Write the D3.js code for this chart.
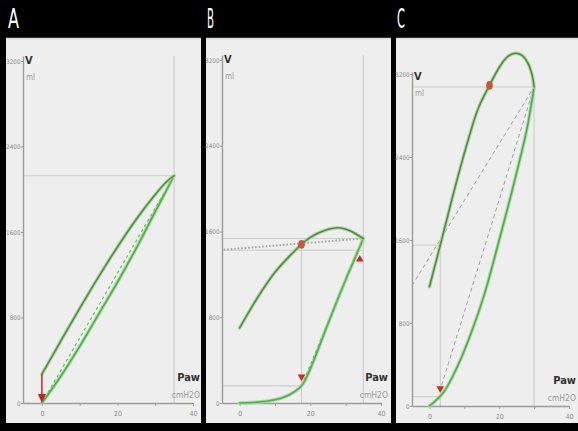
<!DOCTYPE html>
<html><head><meta charset="utf-8">
<script src="https://cdn.jsdelivr.net/npm/d3@7"></script>
<style>body{margin:0;background:#000;} svg{display:block}</style>
</head><body><svg id="c" width="578" height="431"></svg>
<script>
// ---------- data ----------
const panelLabels = ["A", "B", "C"];
const pressureTicks = [0, 10, 20, 30, 40];
const pressureTickLabels = ["0", "", "20", "", "40"];
const volumeTicks = [0, 800, 1600, 2400, 3200];
const volumeTickLabels = ["0", "800", "1600", "2400", "3200"];
const axisNames = ["V", "ml", "Paw", "cmH2O"];

// Panel A
const A_upperP = [0, 5, 10, 15, 20, 25, 30, 33, 35];
const A_upperV = [270, 580, 885, 1180, 1460, 1720, 1950, 2070, 2127];
const A_lowerP = [0, 5, 10, 15, 20, 25, 30, 35];
const A_lowerV = [0, 250, 530, 830, 1130, 1450, 1790, 2127];
const A_dashP = [0, 35];
const A_dashV = [0, 2127];
const A_arrowP = [0, 0];
const A_arrowV = [270, 0];

// Panel B
const B_upperP = [0, 5, 10, 15, 17.5, 20, 24, 28, 31, 33, 35];
const B_upperV = [700, 980, 1220, 1400, 1480, 1545, 1610, 1635, 1610, 1575, 1535];
const B_lowerP = [0, 5, 10, 14, 17.5, 20, 25, 30, 33, 35];
const B_lowerV = [0, 8, 30, 75, 160, 320, 740, 1150, 1380, 1535];
const B_dashP = [17.5, 35];
const B_dashV = [160, 1535];
const B_dotP = [-4.5, 35];
const B_dotV = [1430, 1535];
const B_pointP = [17.5];
const B_pointV = [1480];
const B_downP = [17.5];
const B_downV = [245];
const B_upP = [34];
const B_upV = [1340];

// Panel C
const C_upperP = [0, 3.1, 6.5, 10.8, 14, 17.2, 20.3, 22.5, 24.6, 26.5, 28.3, 29.5, 30];
const C_upperV = [1150, 1550, 2000, 2530, 2870, 3090, 3280, 3370, 3400, 3380, 3300, 3180, 3075];
const C_lowerP = [0, 4, 8, 11, 15.5, 20, 25, 28, 30];
const C_lowerV = [0, 130, 380, 620, 1050, 1600, 2250, 2680, 3075];
const C_dash1P = [-5, 30];
const C_dash1V = [1160, 3075];
const C_dash2P = [3.5, 30];
const C_dash2V = [200, 3075];
const C_pointP = [17.2];
const C_pointV = [3090];
const C_downP = [3.1];
const C_downV = [170];

// ---------- drawing ----------
const svg = d3.select("#c");
svg.append("rect").attr("width", 578).attr("height", 431).attr("fill", "#000");

const FONT = "'Liberation Sans Narrow','DejaVu Sans Condensed','Liberation Sans',sans-serif";
const zip = (P, V) => P.map((p, i) => [p, V[i]]);

const layouts = [
  {left: 6, right: 201, axisX: 23, x40: 193, y0: 403, y3200: 61, top: 56, lw: 11, lx: 8},
  {left: 206, right: 391, axisX: 222, x40: 381, y0: 403, y3200: 60, top: 55, lw: 7, lx: 207},
  {left: 396, right: 578, axisX: 412, x40: 569, y0: 406, y3200: 74, top: 72, lw: 8, lx: 397}
];

const panelData = [
  {
    upper: zip(A_upperP, A_upperV), lower: zip(A_lowerP, A_lowerV),
    greenDash: [zip(A_dashP, A_dashV)], grayDash: [], dotted: [],
    refs: [
      [[-5, 2127], [35, 2127]],
      [[35, "top"], [35, 0]]
    ],
    points: [], down: [], up: [], arrow: zip(A_arrowP, A_arrowV)
  },
  {
    upper: zip(B_upperP, B_upperV), lower: zip(B_lowerP, B_lowerV),
    greenDash: [zip(B_dashP, B_dashV)], grayDash: [], dotted: [zip(B_dotP, B_dotV)],
    refs: [
      [[35, "top"], [35, 0]],
      [[-5, 1535], [35, 1535]],
      [[-5, 1425], [35, 1425]],
      [[17.5, 1480], [17.5, 0]],
      [[-5, 160], [17.5, 160]]
    ],
    points: zip(B_pointP, B_pointV), down: zip(B_downP, B_downV), up: zip(B_upP, B_upV), arrow: null
  },
  {
    upper: zip(C_upperP, C_upperV), lower: zip(C_lowerP, C_lowerV),
    greenDash: [], grayDash: [zip(C_dash1P, C_dash1V), zip(C_dash2P, C_dash2V)], dotted: [],
    refs: [
      [[-5, 3075], [30, 3075]],
      [[30, 3075], [30, 0]],
      [[-5, 1550], [3.1, 1550]],
      [[3.1, 1550], [3.1, 0]],
      [[-5, 90], [3.1, 90]]
    ],
    points: zip(C_pointP, C_pointV), down: zip(C_downP, C_downV), up: [], arrow: null
  }
];

layouts.forEach((L, i) => {
  const D = panelData[i];
  const g = svg.append("g");
  g.append("rect").attr("x", L.left).attr("y", 38).attr("width", L.right - L.left).attr("height", 423 - 38)
    .attr("fill", "#eeeeee");
  g.append("line").attr("x1", L.left).attr("x2", L.right).attr("y1", 38.5).attr("y2", 38.5)
    .attr("stroke", "#d6d6d6").attr("stroke-width", 1.5);
  g.append("text").attr("x", L.lx).attr("y", 28).text(panelLabels[i])
    .attr("fill", "#fff").attr("font-family", FONT).attr("font-size", 27)
    .attr("textLength", L.lw).attr("lengthAdjust", "spacingAndGlyphs");

  const x = d3.scaleLinear().domain([-5, 40]).range([L.axisX, L.x40]);
  const y = d3.scaleLinear().domain([0, 3200]).range([L.y0, L.y3200]);
  const yTopV = y.invert(L.top);
  const yAx = d3.scaleLinear().domain([0, yTopV]).range([L.y0, L.top]);
  const vv = v => v === "top" ? yTopV : v;

  D.refs.forEach(r => {
    g.append("line")
      .attr("x1", x(r[0][0])).attr("y1", y(vv(r[0][1])))
      .attr("x2", x(r[1][0])).attr("y2", y(vv(r[1][1])))
      .attr("stroke", "#cccccc").attr("stroke-width", 1.1);
  });

  const xa = g.append("g").attr("transform", `translate(0,${L.y0})`)
    .call(d3.axisBottom(x).tickValues(pressureTicks).tickSize(3).tickSizeOuter(0)
      .tickFormat((d, k) => pressureTickLabels[k]));
  const ya = g.append("g").attr("transform", `translate(${L.axisX},0)`)
    .call(d3.axisLeft(yAx).tickValues(volumeTicks).tickSize(2).tickSizeOuter(0)
      .tickFormat((d, k) => volumeTickLabels[k]));
  [xa, ya].forEach(a => {
    a.select(".domain").attr("stroke", "#9c9c9c").attr("stroke-width", 1.4);
    a.selectAll(".tick line").attr("stroke", "#9c9c9c");
    a.selectAll(".tick text").attr("fill", "#8a8a8a").attr("font-family", FONT).attr("font-size", 7);
  });
  xa.selectAll(".tick text").attr("y", 7).attr("dy", "0.9em");
  ya.selectAll(".tick text").attr("x", -2.5).attr("font-size", 6.3);

  g.append("text").attr("x", L.axisX + 2).attr("y", L.top + 8).text(axisNames[0])
    .attr("fill", "#333").attr("font-family", FONT).attr("font-size", 11).attr("font-weight", "bold");
  g.append("text").attr("x", L.axisX + 3).attr("y", L.top + 24).text(axisNames[1])
    .attr("fill", "#999").attr("font-family", FONT).attr("font-size", 8);
  g.append("text").attr("x", L.x40 + 7).attr("y", L.y0 - 22).text(axisNames[2]).attr("text-anchor", "end")
    .attr("fill", "#333").attr("font-family", FONT).attr("font-size", 11).attr("font-weight", "bold");
  g.append("text").attr("x", L.x40 + 7).attr("y", L.y0 - 5).text(axisNames[3]).attr("text-anchor", "end")
    .attr("fill", "#999").attr("font-family", FONT).attr("font-size", 8.5);

  const line = d3.line().x(d => x(d[0])).y(d => y(d[1]));
  const curve = d3.line().x(d => x(d[0])).y(d => y(d[1])).curve(d3.curveCatmullRom.alpha(0.5));

  D.grayDash.forEach(s => g.append("path").attr("d", line(s)).attr("fill", "none")
    .attr("stroke", "#9d9dac").attr("stroke-width", 1).attr("stroke-dasharray", "4,3"));
  D.dotted.forEach(s => g.append("path").attr("d", line(s)).attr("fill", "none")
    .attr("stroke", "#a0a0a0").attr("stroke-width", 2).attr("stroke-dasharray", "1.5,2"));

  [[D.lower, "#4fae49"], [D.upper, "#5a8a42"]].forEach(([pts, c]) => {
    g.append("path").attr("d", curve(pts)).attr("fill", "none")
      .attr("stroke", "#a9dca3").attr("stroke-width", 3.6).attr("stroke-linecap", "round");
    g.append("path").attr("d", curve(pts)).attr("fill", "none")
      .attr("stroke", c).attr("stroke-width", 1.6).attr("stroke-linecap", "round");
  });
  D.greenDash.forEach(s => g.append("path").attr("d", line(s)).attr("fill", "none")
    .attr("stroke", "#6cbd62").attr("stroke-width", 1.2).attr("stroke-dasharray", "3,3"));

  D.points.forEach(p => g.append("ellipse").attr("cx", x(p[0])).attr("cy", y(p[1]))
    .attr("rx", 3.3).attr("ry", 4.3).attr("fill", "#c9583a"));
  const tri = d3.symbol().type(d3.symbolTriangle).size(26);
  D.down.forEach(p => g.append("path").attr("d", tri())
    .attr("transform", `translate(${x(p[0])},${y(p[1])}) rotate(180)`).attr("fill", "#cc2a22"));
  D.up.forEach(p => g.append("path").attr("d", tri())
    .attr("transform", `translate(${x(p[0])},${y(p[1])})`).attr("fill", "#cc2a22"));

  if (D.arrow) {
    const a0 = D.arrow[0], a1 = D.arrow[1];
    const ax = x(a0[0]), yA = y(a0[1]), yB = y(a1[1]);
    g.append("line").attr("x1", ax).attr("x2", ax).attr("y1", yA).attr("y2", yB - 6)
      .attr("stroke", "#c8281e").attr("stroke-width", 1.5);
    g.append("path").attr("d", `M${ax - 4},${yB - 9}L${ax + 4},${yB - 9}L${ax},${yB}Z`).attr("fill", "#cc2018");
  }
});
</script>
</body></html>
